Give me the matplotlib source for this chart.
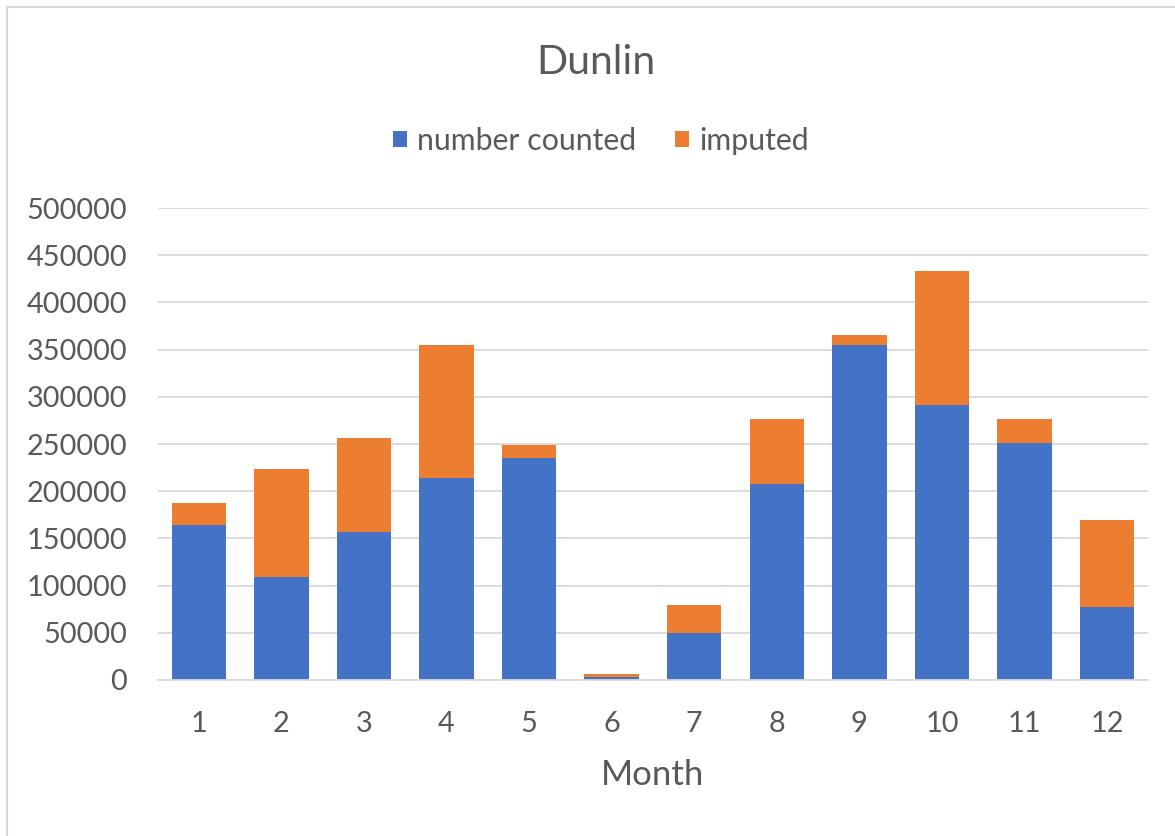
import matplotlib
matplotlib.use("Agg")
import matplotlib.pyplot as plt
from matplotlib.lines import Line2D
import numpy as np

plt.rcParams['font.family'] = ['Lato', 'DejaVu Sans']

months = [str(m) for m in range(1, 13)]
number_counted = [164000, 109000, 157000, 214000, 235000, 3000,
                  50000, 208000, 355000, 291000, 251000, 77000]
imputed = [23000, 115000, 99000, 141000, 14000, 3000,
           29000, 69000, 10000, 142000, 25000, 92000]
y_ticks = [0, 50000, 100000, 150000, 200000, 250000,
           300000, 350000, 400000, 450000, 500000]

BLUE = '#4472C4'
ORANGE = '#ED7D31'
TEXT = '#595959'
GRID = '#D9D9D9'

W, H = 1175, 836
fig = plt.figure(figsize=(W / 100, H / 100), dpi=100)
fig.patch.set_facecolor('white')

left, right = 157.5, 1148.3
bottom, top = 680, 208
ax = fig.add_axes([left / W, 1 - bottom / H, (right - left) / W, (bottom - top) / H])

x = np.arange(len(months))
ax.bar(x, number_counted, width=0.66, color=BLUE, label='number counted', zorder=3)
ax.bar(x, imputed, width=0.66, bottom=number_counted, color=ORANGE,
       label='imputed', zorder=3)

ax.set_xlim(-0.5, len(months) - 0.5)
ax.set_ylim(0, 500000)
ax.set_yticks(y_ticks)
ax.set_yticklabels([str(v) for v in y_ticks])
ax.set_xticks(x)
ax.set_xticklabels(months)

ax.grid(axis='y', color=GRID, linewidth=1.3, zorder=0)
ax.set_axisbelow(True)
for s in ['left', 'right', 'top']:
    ax.spines[s].set_visible(False)
ax.spines['bottom'].set_color(GRID)
ax.spines['bottom'].set_linewidth(1.3)
ax.spines['bottom'].set_zorder(4)

ax.tick_params(axis='both', length=0, labelsize=20.8, colors=TEXT)
ax.tick_params(axis='y', pad=22)
ax.tick_params(axis='x', pad=22)

fig.text(596 / W, 1 - 62 / H, 'Dunlin', ha='center', va='center',
         fontsize=29.5, color=TEXT)
fig.text(653 / W, 1 - 775 / H, 'Month', ha='center', va='center',
         fontsize=25, color=TEXT)

leg = fig.legend(loc='center', bbox_to_anchor=(601 / W, 1 - 141 / H), ncol=2,
                 frameon=False, fontsize=21.8, handlelength=0.45, handleheight=0.45,
                 handletextpad=0.33, columnspacing=1.3, labelcolor=TEXT)

# chart-area frame
fig.add_artist(Line2D([7 / W, 7 / W], [0, 1 - 7 / H], color=GRID, linewidth=1.5,
                      transform=fig.transFigure))
fig.add_artist(Line2D([7 / W, 1], [1 - 7 / H, 1 - 7 / H], color=GRID, linewidth=1.5,
                      transform=fig.transFigure))

fig.savefig('out.png', dpi=100, facecolor='white')
